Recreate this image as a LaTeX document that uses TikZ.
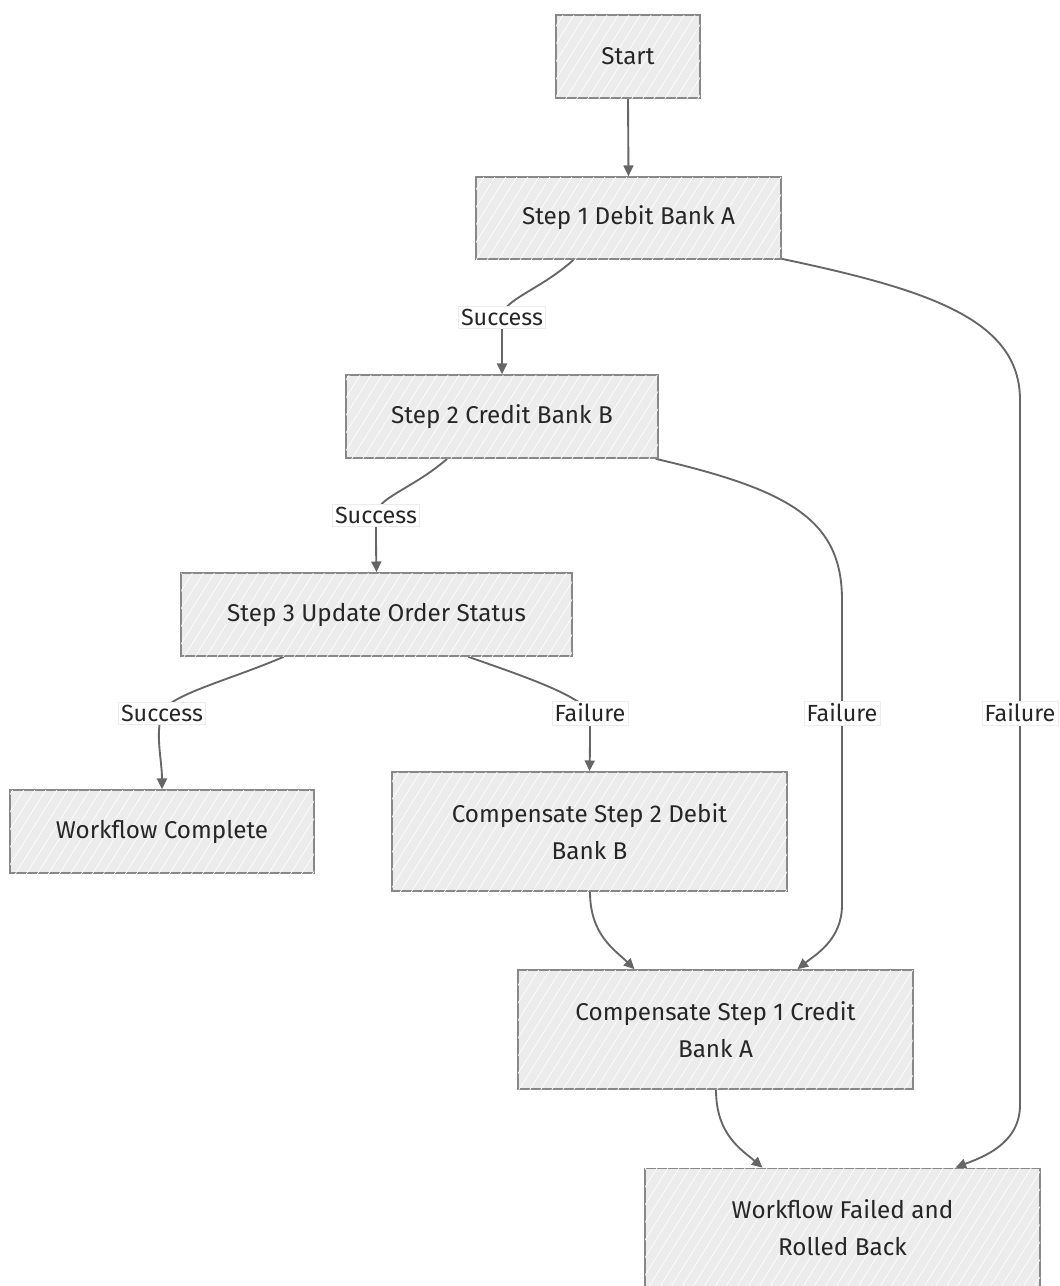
\documentclass[tikz,border=0pt]{standalone}
\usepackage{fontspec}
\setmainfont{Fira Sans}
\usetikzlibrary{arrows.meta,patterns.meta,calc}
\definecolor{boxfill}{HTML}{ECECEC}
\definecolor{boxline}{HTML}{888888}
\definecolor{edgecol}{HTML}{666666}
\definecolor{txt}{HTML}{262626}
\pgfdeclarelayer{bg}
\pgfsetlayers{bg,main}
\tikzset{
  box/.style={draw=boxline, line width=1.3pt, fill=boxfill,
    postaction={pattern={Lines[angle=58,distance=7pt,line width=0.5pt]}, pattern color=white},
    text=txt, font=\fontsize{18.2}{27.7}\selectfont, align=center, inner sep=0pt},
  lbl/.style={fill=white, draw=gray!15, line width=0.4pt, text=txt,
    font=\fontsize{17.5}{21}\selectfont, inner sep=2pt},
  edge/.style={draw=edgecol, line width=1.4pt, -{Triangle[length=8pt,width=7.5pt]}},
  plain/.style={draw=edgecol, line width=1.4pt}
}
\begin{document}
\begin{tikzpicture}[x=0.75pt,y=-0.75pt]
\useasboundingbox (0,0) rectangle (1060,1286);
\node[box, minimum width=144*0.75pt, minimum height=83*0.75pt] (st) at (628,56.5) {Start};
\node[box, minimum width=305*0.75pt, minimum height=82*0.75pt] (s1) at (628.5,218) {Step 1 Debit Bank A};
\node[box, minimum width=312*0.75pt, minimum height=83*0.75pt] (s2) at (502,416.5) {Step 2 Credit Bank B};
\node[box, minimum width=391*0.75pt, minimum height=83*0.75pt] (s3) at (376.5,614.5) {Step 3 Update Order Status};
\node[box, minimum width=304*0.75pt, minimum height=83*0.75pt] (wc) at (162,831.5) {Workflow Complete};
\node[box, minimum width=395*0.75pt, minimum height=119*0.75pt] (c2) at (589.5,831.5) {Compensate Step 2 Debit\\Bank B};
\node[box, minimum width=395*0.75pt, minimum height=119*0.75pt] (c1) at (715.5,1029.5) {Compensate Step 1 Credit\\Bank A};
\node[box, minimum width=395*0.75pt, minimum height=119*0.75pt] (wf) at (842.5,1228) {Workflow Failed and\\Rolled Back};

\node[lbl] (l1) at (502,317) {Success};
\node[lbl] (l2) at (376,515) {Success};
\node[lbl] (l3) at (162,713) {Success};
\node[lbl] (l4) at (590,713) {Failure};
\node[lbl] (l5) at (842,713) {Failure};
\node[lbl] (l6) at (1020,713) {Failure};

\begin{pgfonlayer}{bg}
\draw[edge] (st.south) -- (s1.north);
\draw[edge] ($(s1.south)+(-55,0)$) .. controls (540,290) and (502,300) .. (l1.center) .. controls (502,340) and (502,350) .. (s2.north);
\draw[edge] ($(s2.south)+(-55,0)$) .. controls (414,488) and (376,498) .. (l2.center) .. controls (376,538) and (376,548) .. (s3.north);
\draw[edge] ($(s3.south)+(-93,0)$) .. controls (230,680) and (168,695) .. (l3.center) .. controls (155,735) and (162,760) .. (wc.north);
\draw[edge] ($(s3.south)+(92,0)$) .. controls (520,675) and (580,695) .. (l4.center) .. controls (590,730) and (590,750) .. (c2.north);
\draw[plain] ($(s2.south east)+(-3,0)$) .. controls (790,490) and (842,520) .. (842,600) -- (l5.center);
\draw[edge] (l5.center) -- (842,905) .. controls (842,940) and (815,955) .. ($(c1.north)+(82,0)$);
\draw[plain] ($(s1.south east)+(0,-1)$) .. controls (930,290) and (1020,320) .. (1020,400) -- (l6.center);
\draw[edge] (l6.center) -- (1020,1105) .. controls (1020,1145) and (980,1158) .. ($(wf.north)+(113,0)$);
\draw[edge] ($(c2.south)+(0.5,0)$) .. controls (590,935) and (615,950) .. ($(c1.north)+(-81,0)$);
\draw[edge] ($(c1.south)+(0.5,0)$) .. controls (716,1135) and (742,1150) .. ($(wf.north)+(-80,0)$);
\end{pgfonlayer}
\end{tikzpicture}
\end{document}
